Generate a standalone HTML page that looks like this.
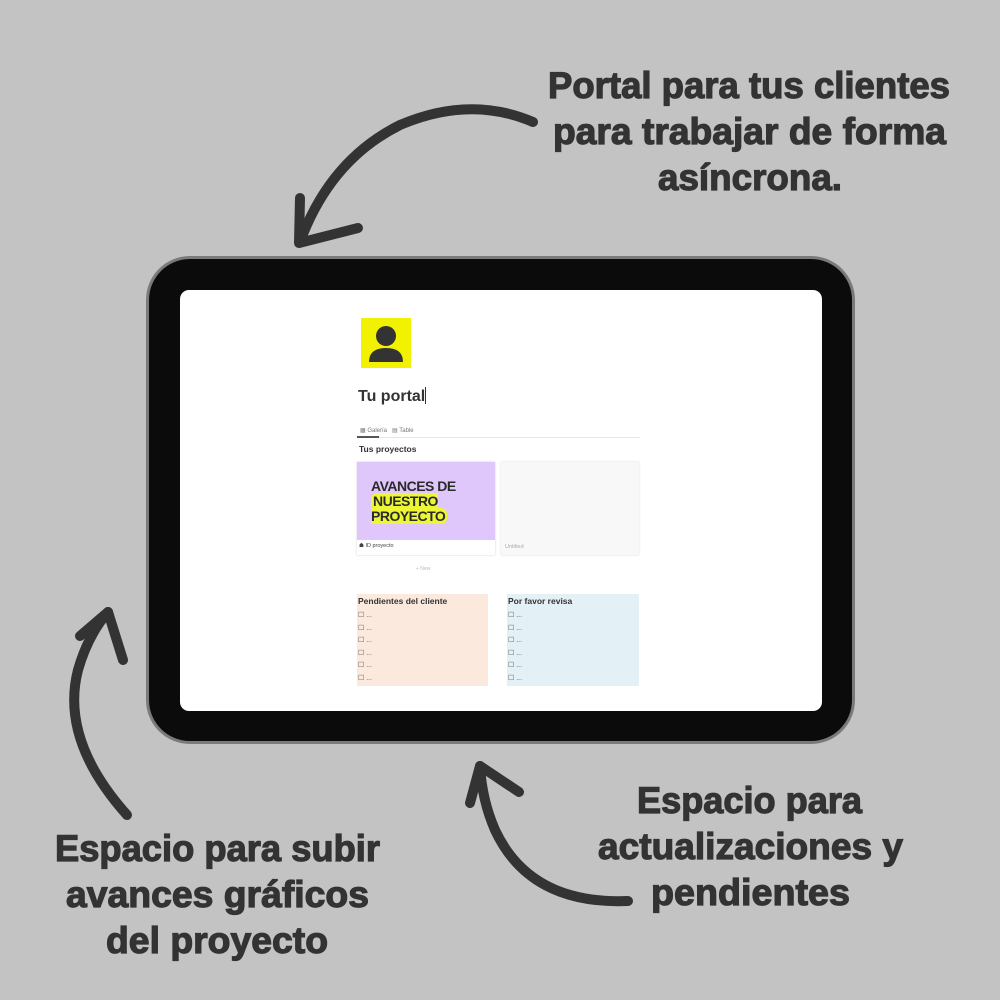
<!DOCTYPE html>
<html><head><meta charset="utf-8"><style>
html,body{margin:0;padding:0;}
body{width:1000px;height:1000px;background:#c3c3c3;position:relative;overflow:hidden;font-family:"Liberation Sans",sans-serif;}
.abs{position:absolute;}
</style></head><body>
<!-- tablet -->
<div class="abs" style="left:146px;top:256px;width:709px;height:488px;border-radius:44px;background:#7a7a7a;"></div>
<div class="abs" style="left:149px;top:259px;width:703px;height:482px;border-radius:41px;background:#0b0b0b;"></div>
<div class="abs" style="left:180px;top:290px;width:642px;height:421px;border-radius:9px;background:#ffffff;overflow:hidden;">
  <div class="abs" style="left:181px;top:28px;width:50px;height:50px;background:#f2f200;">
    <svg width="50" height="50" viewBox="0 0 50 50"><circle cx="25" cy="18" r="10" fill="#333"/><path d="M8 44 Q8 30 25 30 Q42 30 42 44 Z" fill="#333"/></svg>
  </div>
  <div class="abs" style="left:178px;top:97px;font-size:16px;font-weight:bold;color:#333;">Tu portal<span style="display:inline-block;width:1px;height:17px;background:#333;vertical-align:-3px;"></span></div>
  <div class="abs" style="left:180px;top:137px;font-size:6px;color:#777;">▦ Galería &nbsp;&nbsp;▤ Table</div>
  <div class="abs" style="left:177px;top:147px;width:283px;height:1px;background:#e6e6e6;"></div>
  <div class="abs" style="left:177px;top:146px;width:22px;height:2px;background:#555;"></div>
  <div class="abs" style="left:179px;top:154px;font-size:8.5px;font-weight:bold;color:#333;">Tus proyectos</div>
  <div class="abs" style="left:177px;top:172px;width:138px;height:93px;background:#fff;box-shadow:0 0 2px rgba(0,0,0,.2);">
    <div style="height:78px;background:#dfc6fb;position:relative;">
      <div class="abs" style="left:14px;top:17px;font-size:14px;font-weight:bold;color:#2a2a2a;line-height:15px;letter-spacing:-0.5px;">AVANCES DE<br><span style="background:#ecf536;border-radius:6px;padding:0 2px;">NUESTRO<br>PROYECTO</span></div>
    </div>
    <div style="font-size:5.5px;color:#444;padding:3px 2px;">☗ ID proyecto</div>
  </div>
  <div class="abs" style="left:321px;top:172px;width:138px;height:93px;background:#f8f8f8;box-shadow:0 0 2px rgba(0,0,0,.15);">
    <div class="abs" style="left:4px;top:82px;font-size:5.5px;color:#aaa;">Untitled</div>
  </div>
  <div class="abs" style="left:236px;top:276px;font-size:5px;color:#bbb;">+ New</div>
  <div class="abs" style="left:177px;top:304px;width:131px;height:92px;background:#fbe9dd;"></div>
  <div class="abs" style="left:327px;top:304px;width:132px;height:92px;background:#e3f0f5;"></div>
  <div class="abs" style="left:178px;top:306px;font-size:8.5px;font-weight:bold;color:#333;">Pendientes del cliente</div>
  <div class="abs" style="left:328px;top:306px;font-size:8.5px;font-weight:bold;color:#333;">Por favor revisa</div>
  <div class="abs" style="left:178px;top:320px;font-size:7px;color:#555;line-height:12.6px;">☐ ...<br>☐ ...<br>☐ ...<br>☐ ...<br>☐ ...<br>☐ ...</div>
  <div class="abs" style="left:328px;top:320px;font-size:7px;color:#555;line-height:12.6px;">☐ ...<br>☐ ...<br>☐ ...<br>☐ ...<br>☐ ...<br>☐ ...</div>
</div>
<svg class="abs" style="left:0;top:0" width="1000" height="1000" viewBox="0 0 1000 1000">
<g fill="none" stroke="#333" stroke-width="10" stroke-linecap="round" stroke-linejoin="round">
  <path d="M533 122 Q470 95 400 125 Q330 160 300 242"/>
  <path d="M300 198 L299 243 L358 228"/>
  <path d="M127 815 Q60 740 78 670 Q88 635 108 612"/>
  <path d="M80 636 L108 612 L123 660"/>
  <path d="M628 901 Q530 905 495 830 Q482 800 480 766"/>
  <path d="M470 803 L480 766 L519 792"/>
</g>
<g font-family="Liberation Sans, sans-serif" font-weight="bold" font-size="37" fill="#333" stroke="#333" stroke-width="1.2">
  <text x="548" y="98" textLength="402" lengthAdjust="spacingAndGlyphs">Portal para tus clientes</text>
  <text x="553" y="144" textLength="393" lengthAdjust="spacingAndGlyphs">para trabajar de forma</text>
  <text x="658" y="190" textLength="184" lengthAdjust="spacingAndGlyphs">asíncrona.</text>
  <text x="637" y="813" textLength="225" lengthAdjust="spacingAndGlyphs">Espacio para</text>
  <text x="598" y="859" textLength="305" lengthAdjust="spacingAndGlyphs">actualizaciones y</text>
  <text x="651" y="905" textLength="199" lengthAdjust="spacingAndGlyphs">pendientes</text>
  <text x="55" y="861" textLength="325" lengthAdjust="spacingAndGlyphs">Espacio para subir</text>
  <text x="66" y="907" textLength="303" lengthAdjust="spacingAndGlyphs">avances gráficos</text>
  <text x="106" y="953" textLength="222" lengthAdjust="spacingAndGlyphs">del proyecto</text>
</g>
</svg>
</body></html>
